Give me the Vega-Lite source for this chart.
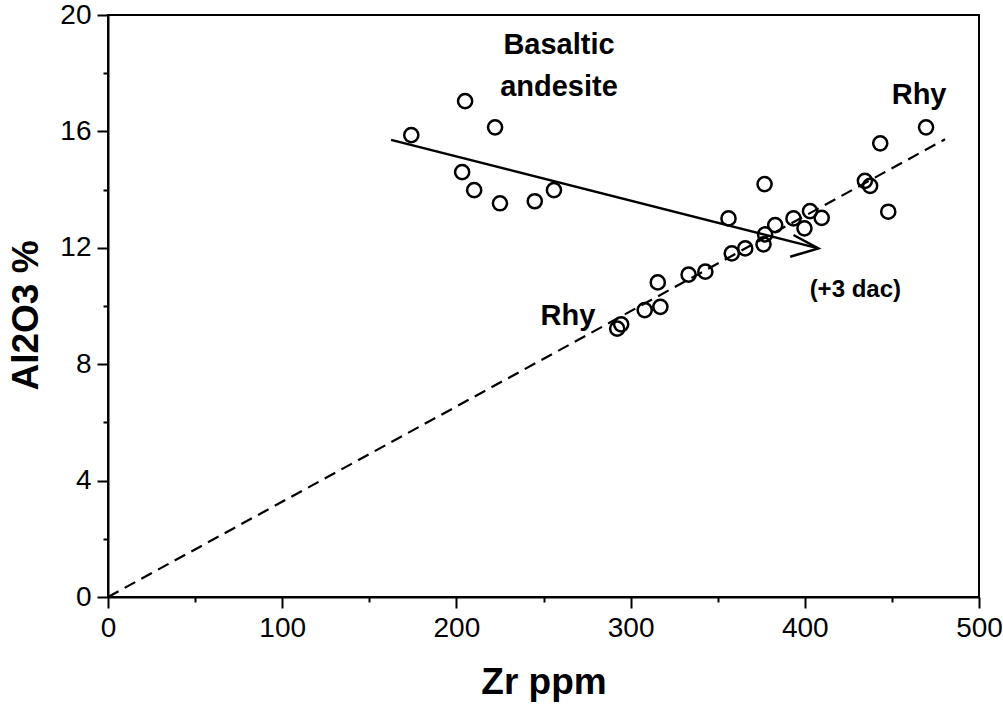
{
  "$schema": "https://vega.github.io/schema/vega-lite/v6.json",
  "width": 871,
  "height": 582,
  "autosize": {"type": "none"},
  "padding": {"left": 108, "top": 15, "right": 24, "bottom": 110},
  "background": "white",
  "config": {
    "view": {"stroke": "black", "strokeWidth": 2},
    "font": "Liberation Sans"
  },
  "datasets": {
    "pts": [
      {"zr": 174.1, "al": 15.87}, {"zr": 205.0, "al": 17.04}, {"zr": 222.2, "al": 16.14},
      {"zr": 203.3, "al": 14.6}, {"zr": 210.2, "al": 13.98}, {"zr": 225.0, "al": 13.53},
      {"zr": 245.0, "al": 13.6}, {"zr": 256.0, "al": 13.98},
      {"zr": 376.9, "al": 14.19}, {"zr": 434.5, "al": 14.3}, {"zr": 437.5, "al": 14.13},
      {"zr": 447.9, "al": 13.24}, {"zr": 356.2, "al": 13.01}, {"zr": 383.0, "al": 12.78},
      {"zr": 393.5, "al": 13.01}, {"zr": 403.0, "al": 13.26}, {"zr": 409.7, "al": 13.03},
      {"zr": 399.8, "al": 12.67}, {"zr": 377.2, "al": 12.46}, {"zr": 376.3, "al": 12.12},
      {"zr": 365.8, "al": 11.98}, {"zr": 358.1, "al": 11.81}, {"zr": 342.9, "al": 11.18},
      {"zr": 333.3, "al": 11.08}, {"zr": 315.6, "al": 10.81}, {"zr": 317.1, "al": 9.97},
      {"zr": 308.1, "al": 9.86}, {"zr": 294.6, "al": 9.37}, {"zr": 292.3, "al": 9.22},
      {"zr": 469.6, "al": 16.14}, {"zr": 443.3, "al": 15.59}
    ],
    "dash": [{"zr": 0, "al": 0}, {"zr": 480.5, "al": 15.73}],
    "arrow": [{"zr": 162.5, "al": 15.71}, {"zr": 407.8, "al": 11.98}],
    "head": [
      {"zr": 393.5, "al": 12.44, "o": 1},
      {"zr": 407.8, "al": 11.98, "o": 2},
      {"zr": 391.6, "al": 11.69, "o": 3}
    ],
    "labels": [
      {"zr": 258.9, "al": 18.66, "t": "Basaltic"},
      {"zr": 258.9, "al": 17.21, "t": "andesite"},
      {"zr": 465.6, "al": 16.94, "t": "Rhy"},
      {"zr": 264.0, "al": 9.36, "t": "Rhy"}
    ],
    "small": [{"zr": 429.0, "al": 10.3, "t": "(+3 dac)"}]
  },
  "resolve": {"axis": {"x": "independent", "y": "independent"}},
  "layer": [
    {
      "data": {"name": "dash"},
      "mark": {"type": "line", "color": "black", "strokeWidth": 2.2, "strokeDash": [12, 7]},
      "encoding": {
        "x": {"field": "zr", "type": "quantitative",
              "scale": {"domain": [0, 500], "nice": false, "zero": false},
              "axis": {"orient": "bottom", "values": [50, 150, 250, 350, 450], "labels": false, "domain": false,
                       "grid": false, "tickSize": 5, "tickWidth": 2, "tickColor": "black", "title": null}},
        "y": {"field": "al", "type": "quantitative",
              "scale": {"domain": [0, 20], "nice": false, "zero": false},
              "axis": {"orient": "left", "values": [2, 6, 10, 14, 18], "labels": false, "domain": false,
                       "grid": false, "tickSize": 5, "tickWidth": 2, "tickColor": "black", "title": null}}
      }
    },
    {
      "data": {"name": "pts"},
      "mark": {"type": "point", "shape": "circle", "filled": false, "stroke": "black", "strokeWidth": 2.5, "size": 200, "opacity": 1},
      "encoding": {
        "x": {"field": "zr", "type": "quantitative",
              "scale": {"domain": [0, 500], "nice": false, "zero": false},
              "axis": {"orient": "bottom", "values": [0, 100, 200, 300, 400, 500], "grid": false,
                       "domainColor": "black", "domainWidth": 2, "tickColor": "black", "tickWidth": 2, "tickSize": 11,
                       "labelFont": "Liberation Sans", "labelFontSize": 28, "labelColor": "black", "labelPadding": 6,
                       "labelFlush": false,
                       "title": "Zr ppm", "titleFont": "Liberation Sans", "titleFontSize": 37, "titleFontWeight": "bold",
                       "titleColor": "black", "titleY": 85, "titleBaseline": "middle"}},
        "y": {"field": "al", "type": "quantitative",
              "scale": {"domain": [0, 20], "nice": false, "zero": false},
              "axis": {"orient": "left", "values": [0, 4, 8, 12, 16, 20], "grid": false,
                       "domainColor": "black", "domainWidth": 2, "tickColor": "black", "tickWidth": 2, "tickSize": 11,
                       "labelFont": "Liberation Sans", "labelFontSize": 28, "labelColor": "black", "labelPadding": 6,
                       "labelFlush": false,
                       "title": "Al2O3 %", "titleFont": "Liberation Sans", "titleFontSize": 37, "titleFontWeight": "bold",
                       "titleColor": "black", "titleX": -82, "titleY": 300, "titleAngle": -90,
                       "titleAlign": "center", "titleBaseline": "middle"}}
      }
    },
    {
      "data": {"name": "arrow"},
      "mark": {"type": "line", "color": "black", "strokeWidth": 2.5},
      "encoding": {
        "x": {"field": "zr", "type": "quantitative", "axis": null},
        "y": {"field": "al", "type": "quantitative", "axis": null}
      }
    },
    {
      "data": {"name": "head"},
      "mark": {"type": "line", "color": "black", "strokeWidth": 2.5},
      "encoding": {
        "x": {"field": "zr", "type": "quantitative", "axis": null},
        "y": {"field": "al", "type": "quantitative", "axis": null},
        "order": {"field": "o"}
      }
    },
    {
      "data": {"name": "labels"},
      "mark": {"type": "text", "font": "Liberation Sans", "fontSize": 29, "fontWeight": "bold", "color": "black",
               "align": "center", "baseline": "alphabetic"},
      "encoding": {
        "x": {"field": "zr", "type": "quantitative", "axis": null},
        "y": {"field": "al", "type": "quantitative", "axis": null},
        "text": {"field": "t"}
      }
    },
    {
      "data": {"name": "small"},
      "mark": {"type": "text", "font": "Liberation Sans", "fontSize": 24, "fontWeight": "bold", "color": "black",
               "align": "center", "baseline": "alphabetic"},
      "encoding": {
        "x": {"field": "zr", "type": "quantitative", "axis": null},
        "y": {"field": "al", "type": "quantitative", "axis": null},
        "text": {"field": "t"}
      }
    }
  ]
}
